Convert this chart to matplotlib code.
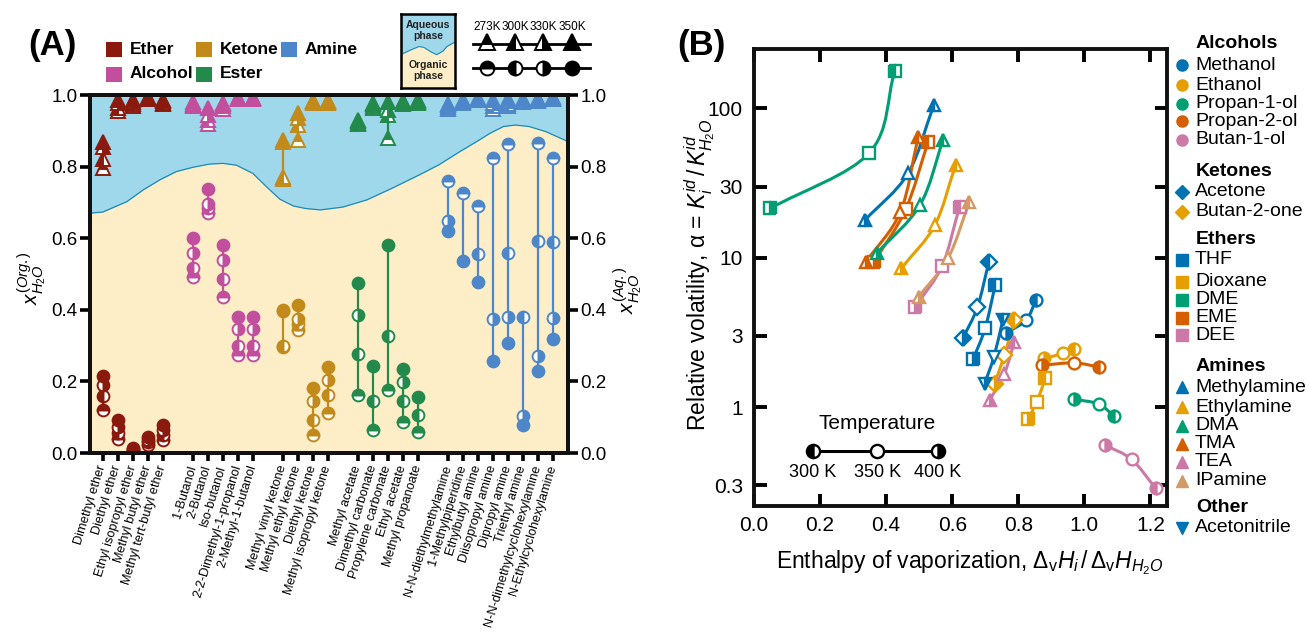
import numpy as np
import matplotlib
matplotlib.use('Agg')
import matplotlib.pyplot as plt
from matplotlib.path import Path
from matplotlib.patches import PathPatch, Rectangle
from matplotlib.lines import Line2D
from matplotlib.ticker import NullLocator
from matplotlib.mathtext import MathTextParser

plt.rcParams['font.family'] = ['Liberation Sans', 'DejaVu Sans']
plt.rcParams['mathtext.fontset'] = 'custom'
plt.rcParams['mathtext.rm'] = 'Liberation Sans'
plt.rcParams['mathtext.it'] = 'Liberation Sans:italic'
plt.rcParams['mathtext.bf'] = 'Liberation Sans:bold'
plt.rcParams['mathtext.sf'] = 'Liberation Sans'

nan = np.nan

# ---------------- Panel A data ----------------
compounds_A = ["Dimethyl ether", "Diethyl ether", "Ethyl isopropyl ether", "Methyl butyl ether",
               "Methyl tert-butyl ether",
               "1-Butanol", "2-Butanol", "Iso-butanol", "2-2-Dimethyl-1-propanol", "2-Methyl-1-butanol",
               "Methyl vinyl ketone", "Methyl ethyl ketone", "Diethyl ketone", "Methyl isopropyl ketone",
               "Methyl acetate", "Dimethyl carbonate", "Propylene carbonate", "Ethyl acetate",
               "Methyl propanoate",
               "N-N-diethylmethylamine", "1-Methylpiperidine", "Ethylbutyl amine", "Diisopropyl amine",
               "Dipropyl amine", "Triethyl amine", "N-N-dimethylcyclohexylamine", "N-Ethylcyclohexylamine"]
family_A = ['Ether'] * 5 + ['Alcohol'] * 5 + ['Ketone'] * 4 + ['Ester'] * 5 + ['Amine'] * 8
xpos_A = [0, 1, 2, 3, 4, 6, 7, 8, 9, 10, 12, 13, 14, 15, 17, 18, 19, 20, 21,
          23, 24, 25, 26, 27, 28, 29, 30]
temps_A = ['273K', '300K', '330K', '350K']

# organic-phase water mole fraction, columns = temps_A
x_org = [
    [0.121, 0.158, 0.191, 0.216],
    [0.039, 0.056, 0.074, 0.093],
    [0.006, 0.009, 0.011, 0.013],
    [0.022, 0.030, 0.036, 0.045],
    [0.037, 0.051, 0.065, 0.079],
    [0.493, 0.516, 0.558, 0.600],
    [0.670, 0.685, 0.695, 0.738],
    [0.437, 0.486, 0.540, 0.581],
    [0.273, 0.300, 0.346, 0.380],
    [0.273, 0.300, 0.346, 0.380],
    [0.295, 0.300, 0.398, 0.400],
    [0.344, 0.360, 0.375, 0.414],
    [0.051, 0.093, 0.144, 0.181],
    [0.112, 0.163, 0.203, 0.240],
    [0.163, 0.276, 0.386, 0.476],
    [0.063, 0.144, nan, 0.244],
    [0.177, 0.328, nan, 0.581],
    [0.086, 0.144, 0.197, 0.234],
    [0.060, 0.107, nan, 0.156],
    [0.761, nan, 0.647, 0.619],
    [0.727, nan, nan, 0.535],
    [0.691, 0.556, nan, 0.479],
    [0.825, nan, 0.374, 0.258],
    [0.862, 0.558, 0.381, 0.307],
    [nan, 0.381, 0.104, 0.079],
    [0.867, 0.593, 0.270, 0.230],
    [0.825, 0.589, 0.376, 0.318],
]
# aqueous-phase water mole fraction, columns = temps_A
x_aq = [
    [0.795, 0.820, 0.855, 0.870],
    [0.955, 0.965, 0.978, 0.985],
    [0.970, 0.975, 0.980, 0.985],
    [0.988, 0.990, 0.992, 0.994],
    [0.975, 0.978, 0.982, 0.985],
    [0.968, 0.972, 0.975, 0.980],
    [0.920, 0.930, 0.945, 0.965],
    [0.962, 0.968, 0.975, 0.978],
    [0.990, 0.991, 0.992, 0.993],
    [0.990, 0.991, 0.992, 0.993],
    [0.765, 0.770, 0.868, 0.873],
    [0.875, 0.915, 0.935, 0.950],
    [0.978, 0.980, 0.982, 0.984],
    [0.978, 0.980, 0.982, 0.984],
    [0.918, 0.922, 0.926, 0.930],
    [0.965, 0.970, 0.974, 0.978],
    [0.879, 0.945, 0.958, 0.981],
    [0.975, 0.978, 0.981, 0.983],
    [0.978, 0.981, 0.983, 0.985],
    [0.962, 0.967, 0.972, 0.976],
    [0.978, 0.981, 0.984, 0.986],
    [0.985, 0.987, 0.989, 0.991],
    [0.962, 0.970, 0.978, 0.986],
    [0.968, 0.976, 0.982, 0.988],
    [nan, 0.980, 0.984, 0.988],
    [0.984, 0.986, 0.988, 0.990],
    [0.988, 0.990, 0.992, 0.994],
]
# phase boundary (shape of the shaded regions)
boundary_x = [-0.85, 0.0, 1.6, 2.7, 3.8, 4.9, 6.0, 7.1, 8.0, 8.9, 10.0, 10.9, 11.8, 12.7, 13.5,
              14.5, 16.0, 17.6, 19.3, 21.1, 22.4, 23.8, 25.0, 25.8, 26.7, 27.5, 28.4, 29.5, 31.0]
boundary_y = [0.670, 0.673, 0.702, 0.735, 0.763, 0.786, 0.798, 0.807, 0.809, 0.804, 0.781, 0.744,
              0.709, 0.690, 0.683, 0.679, 0.687, 0.707, 0.740, 0.777, 0.805, 0.842, 0.872, 0.893,
              0.912, 0.916, 0.912, 0.898, 0.870]

fam_colors = {'Ether': '#8b1a0e', 'Alcohol': '#c24e9e', 'Ketone': '#c28a1a',
              'Ester': '#238a4c', 'Amine': '#4d87c9'}
fill_A = {'273K': 'top', '300K': 'left', '330K': 'right', '350K': 'full'}

# ---------------- Panel B data ----------------
temps_B = ['300 K', '350 K', '400 K']
series_B = ['Methanol', 'Ethanol', 'Propan-1-ol', 'Propan-2-ol', 'Butan-1-ol',
            'Acetone', 'Butan-2-one',
            'THF', 'Dioxane', 'DME', 'EME', 'DEE',
            'Methylamine', 'Ethylamine', 'DMA', 'TMA', 'TEA', 'IPamine',
            'Acetonitrile']
groups_B = ['Alcohols'] * 5 + ['Ketones'] * 2 + ['Ethers'] * 5 + ['Amines'] * 6 + ['Other']
dH_B = [
    [0.854, 0.823, 0.762],
    [0.969, 0.934, 0.879],
    [1.090, 1.043, 0.969],
    [1.043, 0.969, 0.872],
    [1.216, 1.143, 1.063],
    [0.711, 0.676, 0.632],
    [0.788, 0.758, 0.728],
    [0.730, 0.700, 0.663],
    [0.882, 0.856, 0.829],
    [0.426, 0.349, 0.049],
    [0.527, 0.459, 0.364],
    [0.622, 0.569, 0.487],
    [0.544, 0.466, 0.336],
    [0.610, 0.547, 0.446],
    [0.572, 0.502, 0.371],
    [0.497, 0.443, 0.339],
    [0.788, 0.758, 0.714],
    [0.652, 0.587, 0.498],
    [0.753, 0.726, 0.698],
]
alpha_B = [
    [5.21, 3.83, 3.12],
    [2.47, 2.29, 2.12],
    [0.87, 1.05, 1.13],
    [1.86, 1.98, 1.91],
    [0.286, 0.447, 0.557],
    [9.4, 4.66, 2.89],
    [3.83, 2.23, 1.44],
    [6.56, 3.40, 2.09],
    [1.56, 1.09, 0.83],
    [178.0, 50.5, 21.4],
    [59.8, 21.1, 9.4],
    [21.9, 8.8, 4.66],
    [105.0, 36.7, 17.9],
    [41.7, 16.5, 8.5],
    [61.3, 22.5, 10.7],
    [64.5, 20.3, 9.4],
    [2.74, 1.68, 1.12],
    [23.7, 9.9, 5.48],
    [3.83, 2.17, 1.44],
]
BLUE, ORANGE, GREEN, VERM, PINK, TAN = '#0072B2', '#E69F00', '#009E73', '#D55E00', '#CC79A7', '#D39A66'
color_B = [BLUE, ORANGE, GREEN, VERM, PINK, BLUE, ORANGE, BLUE, ORANGE, GREEN, VERM, PINK,
           BLUE, ORANGE, GREEN, VERM, PINK, TAN, BLUE]
marker_group = {'Alcohols': 'o', 'Ketones': 'D', 'Ethers': 's', 'Amines': '^', 'Other': 'v'}

W, H = 1309, 635
fig = plt.figure(figsize=(W / 100, H / 100), dpi=100)


def box(x0, y0, x1, y1):
    return [x0 / W, 1 - y1 / H, (x1 - x0) / W, (y1 - y0) / H]


# ================= Panel A =================
axA = fig.add_axes(box(90, 95, 568, 453))
axA.set_xlim(-0.85, 31.0)
axA.set_ylim(0, 1)
axA.fill_between(boundary_x, 0, boundary_y, color='#fdeec8', lw=0, zorder=0)
axA.fill_between(boundary_x, boundary_y, 1, color='#9fd7eb', lw=0, zorder=0)
axA.plot(boundary_x, boundary_y, color='#1d8ab4', lw=0.9, zorder=1)

for i, (name, fam, xp) in enumerate(zip(compounds_A, family_A, xpos_A)):
    c = fam_colors[fam]
    org = np.array(x_org[i], dtype=float)
    aq = np.array(x_aq[i], dtype=float)
    for vals in (org, aq):
        axA.plot([xp, xp], [np.nanmin(vals), np.nanmax(vals)], color=c, lw=1.6, zorder=2,
                 solid_capstyle='butt')
    for j, t in enumerate(temps_A):
        if not np.isnan(org[j]):
            axA.plot(xp, org[j], marker='o', ms=8.5, mec=c, mfc=c, mfcalt='white', mew=1.4,
                     fillstyle=fill_A[t], zorder=3, ls='none')
        if not np.isnan(aq[j]):
            axA.plot(xp, aq[j], marker='^', ms=9.5, mec=c, mfc=c, mfcalt='white', mew=1.4,
                     fillstyle=fill_A[t], zorder=3, ls='none')

axA.set_xticks(xpos_A)
axA.set_xticklabels(compounds_A, rotation=73, ha='right', va='center', rotation_mode='anchor',
                    fontsize=9.2)
axA.tick_params(axis='x', direction='out', length=6, width=2.6, pad=3)
axA.set_yticks(np.arange(0, 1.01, 0.2))
axA.yaxis.set_major_formatter('{x:.1f}')
axA.tick_params(axis='y', direction='out', length=7, width=2.6, labelsize=13.5, pad=2)
axA2 = axA.twinx()
axA2.set_ylim(0, 1)
axA2.set_yticks(np.arange(0, 1.01, 0.2))
axA2.yaxis.set_major_formatter('{x:.1f}')
axA2.tick_params(axis='y', direction='out', length=7, width=2.6, labelsize=13.5, pad=2)
for a in (axA, axA2):
    for s in a.spines.values():
        s.set_linewidth(2.8)
        s.set_color('#111111')

fig.text(32 / W, 1 - 278 / H, r'$x_{H_2O}^{(Org.)}$', rotation=90, ha='center', va='center',
         fontsize=15)
fig.text(628 / W, 1 - 290 / H, r'$x_{H_2O}^{(Aq.)}$', rotation=90, ha='center', va='center',
         fontsize=15)

# ================= Panel B =================
axB = fig.add_axes(box(754, 49, 1167, 506))
axB.set_yscale('log')
axB.set_xlim(0, 1.25)
axB.set_ylim(0.218, 250)


def smooth_path(xs, ys):
    P = np.column_stack([np.asarray(xs, float), np.log10(np.asarray(ys, float))])
    n = len(P)
    m = np.zeros_like(P)
    m[0] = P[1] - P[0]
    m[-1] = P[-1] - P[-2]
    for k in range(1, n - 1):
        m[k] = (P[k + 1] - P[k - 1]) / 2
    verts = [P[0]]
    codes = [Path.MOVETO]
    for k in range(n - 1):
        verts += [P[k] + m[k] / 3, P[k + 1] - m[k + 1] / 3, P[k + 1]]
        codes += [Path.CURVE4] * 3
    V = np.array(verts)
    V[:, 1] = 10 ** V[:, 1]
    return Path(V, codes)


fill_B = ['left', 'open', 'right']
for i, name in enumerate(series_B):
    c = color_B[i]
    mk = marker_group[groups_B[i]]
    pth = smooth_path(dH_B[i], alpha_B[i])
    axB.add_patch(PathPatch(pth, fill=False, edgecolor=c, lw=2.2, zorder=2))
    ms = 8.5 if mk != 'D' else 8.0
    for j in range(3):
        fs = fill_B[j]
        if fs == 'open':
            axB.plot(dH_B[i][j], alpha_B[i][j], marker=mk, ms=ms, mec=c, mfc='white', mew=1.7,
                     ls='none', zorder=3)
        else:
            axB.plot(dH_B[i][j], alpha_B[i][j], marker=mk, ms=ms, mec=c, mfc=c, mfcalt='white',
                     fillstyle=fs, mew=1.7, ls='none', zorder=3)

axB.set_yticks([0.3, 1, 3, 10, 30, 100])
axB.set_yticklabels(['0.3', '1', '3', '10', '30', '100'])
axB.yaxis.set_minor_locator(NullLocator())
axB.set_xticks(np.arange(0, 1.21, 0.2))
axB.xaxis.set_major_formatter('{x:.1f}')
axB.tick_params(direction='in', top=True, right=True, length=9, width=2.8, labelsize=15)
axB.tick_params(axis='y', pad=8)
axB.tick_params(axis='x', pad=7)
for s in axB.spines.values():
    s.set_linewidth(2.8)
    s.set_color('#111111')

# temperature inset
axB.plot([0.143, 0.445], [0.12, 0.12], color='black', lw=2.2, transform=axB.transAxes, zorder=4)
for xx, fs, lab in zip([0.143, 0.298, 0.445], fill_B, temps_B):
    if fs == 'open':
        axB.plot(xx, 0.12, marker='o', ms=9.5, mec='black', mfc='white', mew=1.7,
                 transform=axB.transAxes, zorder=5)
    else:
        axB.plot(xx, 0.12, marker='o', ms=9.5, mec='black', mfc='black', mfcalt='white',
                 fillstyle=fs, mew=1.7, transform=axB.transAxes, zorder=5)
    axB.text(xx, 0.074, lab, transform=axB.transAxes, ha='center', va='center', fontsize=13)
axB.text(0.298, 0.18, 'Temperature', transform=axB.transAxes, ha='center', va='center',
         fontsize=15)

ylab = r'Relative volatility, α = $K_i^{id}\,/\,K_{H_2O}^{id}$'
fig.text(700 / W, 1 - 275 / H, ylab, rotation=90, ha='center', va='center', fontsize=16.5)

xl_under = r'Enthalpy of vaporization, $\Delta_{\rm v}\underline{H}_i\,/\,\Delta_{\rm v}\underline{H}_{H_2O}$'
xl_plain = r'Enthalpy of vaporization, $\Delta_{\rm v}H_i\,/\,\Delta_{\rm v}H_{H_2O}$'
try:
    MathTextParser('agg').parse(r'$\Delta_{\rm v}\underline{H}_i$', dpi=100)
    xlab = xl_under
except Exception:
    xlab = xl_plain
fig.text(970 / W, 1 - 563 / H, xlab, ha='center', va='center', fontsize=16.5)

# ================= Overlay (legends, labels) =================
ov = fig.add_axes([0, 0, 1, 1], zorder=10)
ov.set_xlim(0, W)
ov.set_ylim(H, 0)
ov.axis('off')

ov.text(28, 46, '(A)', fontsize=25, fontweight='bold', ha='left', va='center')
ov.text(677, 46, '(B)', fontsize=25, fontweight='bold', ha='left', va='center')

# family legend of panel A
fam_leg = [('Ether', 106, 49.5), ('Ketone', 196, 49.5), ('Amine', 281, 49.5),
           ('Alcohol', 106, 74), ('Ester', 196, 74)]
for fam, x0, yc in fam_leg:
    ov.add_patch(Rectangle((x0, yc - 7.5), 16, 15, color=fam_colors[fam], lw=0))
    ov.text(x0 + 24, yc, fam, fontsize=12.5, fontweight='bold', ha='left', va='center')

# phase box
axP = fig.add_axes(box(401, 14, 455, 88), zorder=11)
wave_x = [0, 0.05, 0.2, 0.33, 0.42, 0.55, 0.66, 0.78, 0.85, 0.97, 1.0]
wave_y = [0.45, 0.47, 0.52, 0.56, 0.55, 0.49, 0.45, 0.50, 0.56, 0.61, 0.61]
axP.fill_between(wave_x, 0, wave_y, color='#fdeec8', lw=0)
axP.fill_between(wave_x, wave_y, 1, color='#9fd7eb', lw=0)
axP.plot(wave_x, wave_y, color='#1d8ab4', lw=0.8)
axP.set_xlim(0, 1)
axP.set_ylim(0, 1)
axP.set_xticks([])
axP.set_yticks([])
for s in axP.spines.values():
    s.set_linewidth(1.8)
axP.text(0.5, 0.78, 'Aqueous\nphase', ha='center', va='center', fontsize=7.5,
         fontweight='bold', linespacing=1.1, color='#222222')
axP.text(0.5, 0.24, 'Organic\nphase', ha='center', va='center', fontsize=7.5,
         fontweight='bold', linespacing=1.1, color='#222222')

# temperature marker legend of panel A
tx = [487, 515, 543, 572]
ov.add_line(Line2D([473, 590], [44, 44], color='black', lw=2))
ov.add_line(Line2D([473, 590], [68, 68], color='black', lw=2))
for xx, t in zip(tx, temps_A):
    ov.plot(xx, 42, marker='^', ms=11, mec='black', mfc='black', mfcalt='white', mew=1.4,
            fillstyle=fill_A[t])
    ov.plot(xx, 68, marker='o', ms=10, mec='black', mfc='black', mfcalt='white', mew=1.4,
            fillstyle=fill_A[t])
    ov.text(xx, 27, t, ha='center', va='center', fontsize=8.5)

# legend of panel B
leg_rows = [
    ('Alcohols', None, None, 44),
    ('Methanol', 'o', BLUE, 65), ('Ethanol', 'o', ORANGE, 85), ('Propan-1-ol', 'o', GREEN, 103.5),
    ('Propan-2-ol', 'o', VERM, 121), ('Butan-1-ol', 'o', PINK, 139.5),
    ('Ketones', None, None, 172),
    ('Acetone', 'D', BLUE, 192), ('Butan-2-one', 'D', ORANGE, 212),
    ('Ethers', None, None, 240),
    ('THF', 's', BLUE, 259.5), ('Dioxane', 's', ORANGE, 281.5), ('DME', 's', GREEN, 300),
    ('EME', 's', VERM, 317.5), ('DEE', 's', PINK, 335),
    ('Amines', None, None, 366.5),
    ('Methylamine', '^', BLUE, 387), ('Ethylamine', '^', ORANGE, 407), ('DMA', '^', GREEN, 425.5),
    ('TMA', '^', VERM, 443.5), ('TEA', '^', PINK, 462), ('IPamine', '^', TAN, 480.5),
    ('Other', None, None, 507.5),
    ('Acetonitrile', 'v', BLUE, 528),
]
for lab, mk, c, yc in leg_rows:
    if mk is None:
        ov.text(1196, yc, lab, fontsize=14, fontweight='bold', ha='left', va='center')
    else:
        ov.plot(1182, yc, marker=mk, ms=8 if mk != 'D' else 7.5, color=c, mec=c)
        ov.text(1195, yc, lab, fontsize=14, ha='left', va='center')

fig.savefig('out.png', dpi=100)
